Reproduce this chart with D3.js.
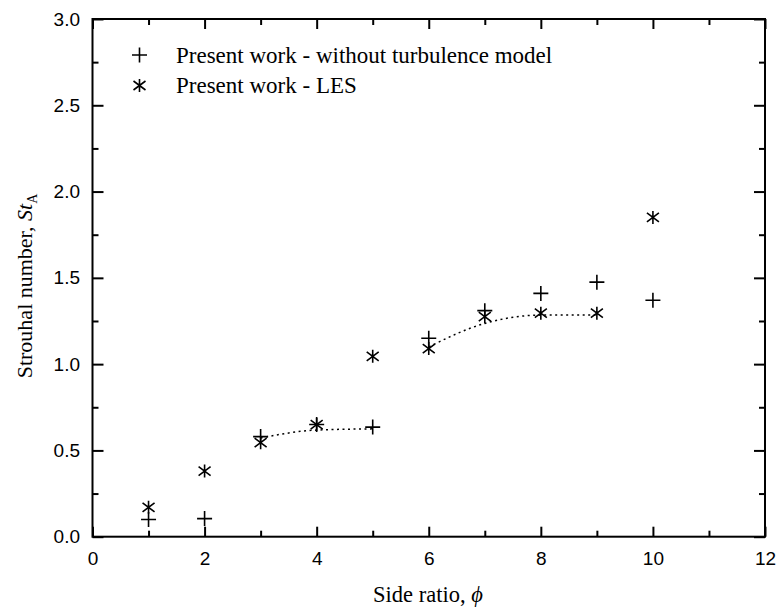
<!DOCTYPE html>
<html>
<head>
<meta charset="utf-8">
<script src="https://cdn.jsdelivr.net/npm/d3@7"></script>
<style>
  html, body { margin: 0; padding: 0; background: #fff; }
  svg { display: block; }
  .tick text { font-family: "Liberation Sans", Arial, sans-serif; font-size: 19px; fill: #000; }
</style>
</head>
<body>
<svg id="chart" width="778" height="607"></svg>
<script>
// Side ratios and Strouhal numbers
const sideRatios = [1, 2, 3, 4, 5, 6, 7, 8, 9, 10];
const stNoModel = [0.10, 0.105, 0.58, 0.65, 0.635, 1.15, 1.31, 1.41, 1.475, 1.37];
const stLES     = [0.17, 0.38, 0.545, 0.65, 1.045, 1.09, 1.275, 1.295, 1.295, 1.85];

// Dotted trend curves
const trendAX = [3, 4, 5];
const trendAY = [0.572, 0.618, 0.625];
const trendBX = [6, 7, 8, 9];
const trendBY = [1.10, 1.236, 1.284, 1.284];

const xTicks = [0, 2, 4, 6, 8, 10, 12];
const xMinor = [1, 3, 5, 7, 9, 11];
const yTicks = [0, 0.5, 1.0, 1.5, 2.0, 2.5, 3.0];
const yMinor = [0.25, 0.75, 1.25, 1.75, 2.25, 2.75];

const legendLabels = ["Present work - without turbulence model", "Present work - LES"];

const serif = "'Liberation Serif', 'Times New Roman', serif";
const svg = d3.select("#chart");
const plotLeft = 92.5, plotRight = 765, plotTop = 19, plotBottom = 536.7;

const x = d3.scaleLinear().domain([0, 12]).range([plotLeft, plotRight]);
const y = d3.scaleLinear().domain([0, 3]).range([plotBottom, plotTop]);

const g = svg.append("g");

function tickAxis(axisFn, scale, vals, size, fmt, transform) {
  const a = axisFn(scale).tickValues(vals).tickSizeInner(size).tickSizeOuter(0).tickFormat(fmt);
  const sel = g.append("g").attr("transform", transform).call(a);
  sel.select(".domain").remove();
  sel.selectAll(".tick line").attr("stroke", "#000").attr("stroke-width", 2);
  return sel;
}

// bottom (labels) and top ticks
const bx = tickAxis(d3.axisBottom, x, xTicks, -10, d3.format("d"), `translate(0,${plotBottom})`);
bx.selectAll(".tick text").attr("dy", "0.71em").attr("y", 15);
tickAxis(d3.axisBottom, x, xMinor, -6, () => "", `translate(0,${plotBottom})`);
tickAxis(d3.axisTop, x, xTicks, -10, () => "", `translate(0,${plotTop})`);
tickAxis(d3.axisTop, x, xMinor, -6, () => "", `translate(0,${plotTop})`);

// left (labels) and right ticks
const ly = tickAxis(d3.axisLeft, y, yTicks, -11, d3.format(".1f"), `translate(${plotLeft},0)`);
ly.selectAll(".tick text").attr("x", -12.5);
tickAxis(d3.axisLeft, y, yMinor, -6, () => "", `translate(${plotLeft},0)`);
tickAxis(d3.axisRight, y, yTicks, -11, () => "", `translate(${plotRight},0)`);
tickAxis(d3.axisRight, y, yMinor, -6, () => "", `translate(${plotRight},0)`);

// frame
g.append("rect")
  .attr("x", plotLeft).attr("y", plotTop)
  .attr("width", plotRight - plotLeft).attr("height", plotBottom - plotTop)
  .attr("fill", "none").attr("stroke", "#000").attr("stroke-width", 2);

// dotted trend curves
const line = d3.line().x(d => x(d[0])).y(d => y(d[1])).curve(d3.curveMonotoneX);
[[trendAX, trendAY], [trendBX, trendBY]].forEach(([xs, ys]) => {
  g.append("path")
    .attr("d", line(xs.map((v, i) => [v, ys[i]])))
    .attr("fill", "none").attr("stroke", "#000")
    .attr("stroke-width", 1.5).attr("stroke-dasharray", "2,3.5");
});

// marker shapes
const plusPath = "M-7.5,0H7.5M0,-7.5V7.5";
const starPath = "M0,-6.5V6.5M-6,-4.5L6,4.5M-6,4.5L6,-4.5";

function drawMarkers(vals, path) {
  g.append("g").selectAll("path")
    .data(sideRatios.map((s, i) => [s, vals[i]]))
    .join("path")
    .attr("transform", d => `translate(${x(d[0])},${y(d[1])})`)
    .attr("d", path)
    .attr("fill", "none").attr("stroke", "#000").attr("stroke-width", 1.6);
}
drawMarkers(stNoModel, plusPath);
drawMarkers(stLES, starPath);

// legend
const legend = g.append("g");
[plusPath, starPath].forEach((p, i) => {
  const rowY = 55 + i * 30.5;
  legend.append("path")
    .attr("transform", `translate(139.5,${rowY})`)
    .attr("d", p).attr("fill", "none").attr("stroke", "#000").attr("stroke-width", 1.6);
  legend.append("text")
    .attr("x", 176).attr("y", rowY + 7.5)
    .attr("font-family", serif)
    .attr("font-size", 23)
    .text(legendLabels[i]);
});

// axis titles
svg.append("text")
  .attr("x", 428).attr("y", 602)
  .attr("text-anchor", "middle")
  .attr("font-family", serif)
  .attr("font-size", 22.5)
  .text("Side ratio, ")
  .append("tspan").attr("font-style", "italic").text("\u03D5");

const yt = svg.append("text")
  .attr("transform", `translate(32,286) rotate(-90)`)
  .attr("text-anchor", "middle")
  .attr("font-family", serif)
  .attr("font-size", 22);
yt.append("tspan").text("Strouhal number, ");
yt.append("tspan").attr("font-style", "italic").text("St");
yt.append("tspan").attr("font-size", 14).attr("dy", 5).text("A");
</script>
</body>
</html>
